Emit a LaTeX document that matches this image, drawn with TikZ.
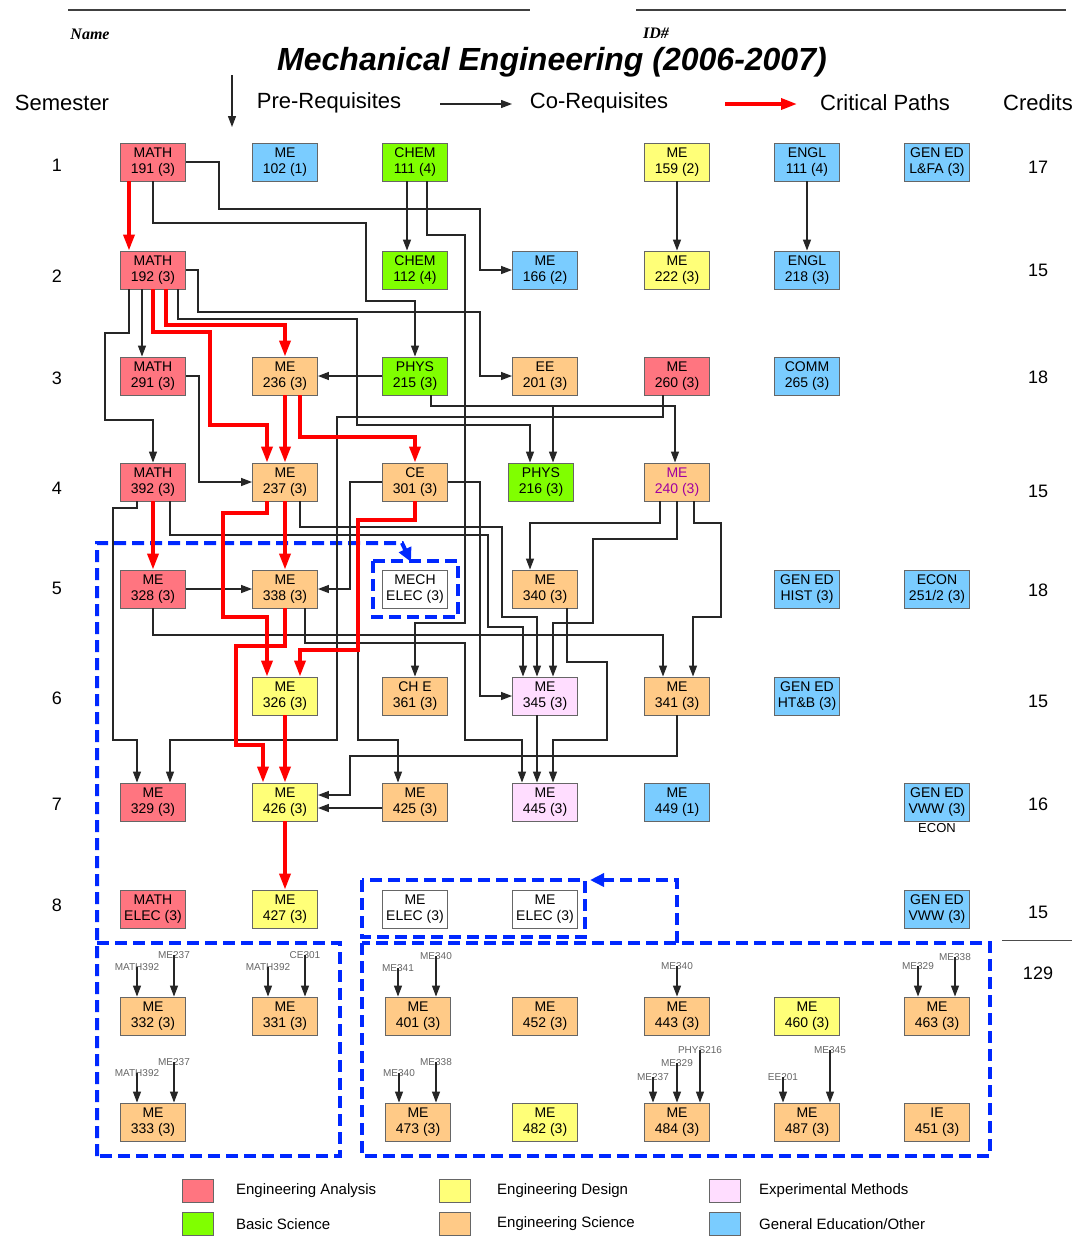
\documentclass[tikz,border=0pt]{standalone}
\usepackage{fontspec}
\setmainfont{Liberation Sans}
\newfontfamily\namefont{Liberation Serif}
\usetikzlibrary{arrows.meta,positioning}

\definecolor{anacol}{RGB}{255,117,128}
\definecolor{scicol}{RGB}{128,255,0}
\definecolor{descol}{RGB}{255,255,120}
\definecolor{engcol}{RGB}{255,202,135}
\definecolor{expcol}{RGB}{255,221,255}
\definecolor{gencol}{RGB}{122,204,255}
\definecolor{critred}{RGB}{255,0,0}
\definecolor{dashblue}{RGB}{0,40,255}
\definecolor{mepurple}{RGB}{160,0,160}

\tikzset{
  course/.style={draw=black!60, line width=0.9pt, minimum width=65pt, minimum height=38pt,
    inner sep=1pt, align=center, font=\fontsize{14}{16}\selectfont},
  pre/.style={draw=black!85, line width=1.3pt, -{Triangle[length=11pt,width=8pt]}},
  crit/.style={draw=critred, line width=3.5pt, -{Triangle[length=16pt,width=11pt]}},
  bluedash/.style={draw=dashblue, line width=4pt, dash pattern=on 12pt off 6pt},
  hint/.style={font=\fontsize{10}{10}\selectfont, text=black!60, inner sep=0pt},
  semnum/.style={font=\fontsize{18}{18}\selectfont},
  headtxt/.style={font=\fontsize{22}{22}\selectfont},
  legbox/.style={draw=black!60, line width=0.9pt, minimum width=31pt, minimum height=23pt, inner sep=0pt},
  legtxt/.style={font=\fontsize{15}{15}\selectfont, inner sep=0pt}
}

\begin{document}
\begin{tikzpicture}[x=1pt, y=-1pt]
  \useasboundingbox (0,0) rectangle (1084,1237);
  \fill[white] (0,0) rectangle (1084,1237);

  % header
  \draw[line width=2pt, black!75] (68,10) -- (530,10);
  \draw[line width=2pt, black!75] (636,10) -- (1066,10);
  \node[font=\namefont\itshape\bfseries\fontsize{16}{16}\selectfont] (name) at (90,34) {Name};
  \node[font=\namefont\itshape\bfseries\fontsize{16}{16}\selectfont] (idno) at (656,33) {ID\#};
  \node[font=\bfseries\itshape\fontsize{32}{34}\selectfont] (title) at (552,62) {Mechanical Engineering (2006-2007)};

  \node[headtxt] (semhd) at (62,103) {Semester};
  \node[headtxt] (prehd) at (329,103) {Pre-Requisites};
  \node[headtxt] (cohd) at (599,103) {Co-Requisites};
  \node[headtxt] (crithd) at (885,103) {Critical Paths};
  \node[headtxt] (credhd) at (1038,103) {Credits};
  \draw[pre] (232,75) -- (232,127);
  \draw[pre] (440,104) -- (512,104);
  \draw[crit] (725,104) -- (797,104);

  % semester numbers and credits
  \foreach \s/\y in {1/165, 2/276, 3/378, 4/488, 5/588, 6/698, 7/804, 8/905}
    \node[semnum] (sem\s) at (57,\y) {\s};
  \foreach \c/\y [count=\i] in {17/167, 15/270, 18/377, 15/491, 18/590, 15/701, 16/804, 15/912}
    \node[semnum] (cred\i) at (1038,\y) {\c};
  \draw[line width=1pt, black!70] (1002,940) -- (1072,940);
  \node[semnum] (credtot) at (1038,973) {129};

  % blue elective frames
  \draw[bluedash, -{Triangle[length=14pt,width=13pt]}] (97,1156) |- (402,543) -- (411,562);
  \draw[bluedash] (373,561) rectangle (458,617);
  \draw[bluedash] (97,943) -- (340,943) -- (340,1156) -- (97,1156);
  \draw[bluedash] (362,943) rectangle (990,1156);
  \draw[bluedash] (362,880) rectangle (585,937);
  \draw[bluedash, -{Triangle[length=14pt,width=13pt]}] (677,943) |- (590,880);

  % semester 1
  \node[course, fill=anacol] (m191) at (153,162) {MATH\\191 (3)};
  \node[course, fill=gencol] (me102) at (285,162) {ME\\102 (1)};
  \node[course, fill=scicol] (ch111) at (415,162) {CHEM\\111 (4)};
  \node[course, fill=descol] (me159) at (677,162) {ME\\159 (2)};
  \node[course, fill=gencol] (en111) at (807,162) {ENGL\\111 (4)};
  \node[course, fill=gencol] (gelfa) at (937,162) {GEN ED\\L\&FA (3)};
  % semester 2
  \node[course, fill=anacol] (m192) at (153,270) {MATH\\192 (3)};
  \node[course, fill=scicol] (ch112) at (415,270) {CHEM\\112 (4)};
  \node[course, fill=gencol] (me166) at (545,270) {ME\\166 (2)};
  \node[course, fill=descol] (me222) at (677,270) {ME\\222 (3)};
  \node[course, fill=gencol] (en218) at (807,270) {ENGL\\218 (3)};
  % semester 3
  \node[course, fill=anacol] (m291) at (153,376) {MATH\\291 (3)};
  \node[course, fill=engcol] (me236) at (285,376) {ME\\236 (3)};
  \node[course, fill=scicol] (ph215) at (415,376) {PHYS\\215 (3)};
  \node[course, fill=engcol] (ee201) at (545,376) {EE\\201 (3)};
  \node[course, fill=anacol] (me260) at (677,376) {ME\\260 (3)};
  \node[course, fill=gencol] (cm265) at (807,376) {COMM\\265 (3)};
  % semester 4
  \node[course, fill=anacol] (m392) at (153,482) {MATH\\392 (3)};
  \node[course, fill=engcol] (me237) at (285,482) {ME\\237 (3)};
  \node[course, fill=engcol] (ce301) at (415,482) {CE\\301 (3)};
  \node[course, fill=scicol] (ph216) at (541,482) {PHYS\\216 (3)};
  \node[course, fill=engcol, text=mepurple] (me240) at (677,482) {ME\\240 (3)};
  % semester 5
  \node[course, fill=anacol] (me328) at (153,589) {ME\\328 (3)};
  \node[course, fill=engcol] (me338) at (285,589) {ME\\338 (3)};
  \node[course, fill=white] (mech) at (415,589) {MECH\\ELEC (3)};
  \node[course, fill=engcol] (me340) at (545,589) {ME\\340 (3)};
  \node[course, fill=gencol] (gehist) at (807,589) {GEN ED\\HIST (3)};
  \node[course, fill=gencol] (econ) at (937,589) {ECON\\251/2 (3)};
  % semester 6
  \node[course, fill=descol] (me326) at (285,696) {ME\\326 (3)};
  \node[course, fill=engcol] (che361) at (415,696) {CH E\\361 (3)};
  \node[course, fill=expcol] (me345) at (545,696) {ME\\345 (3)};
  \node[course, fill=engcol] (me341) at (677,696) {ME\\341 (3)};
  \node[course, fill=gencol] (geht) at (807,696) {GEN ED\\HT\&B (3)};
  % semester 7
  \node[course, fill=anacol] (me329) at (153,802) {ME\\329 (3)};
  \node[course, fill=descol] (me426) at (285,802) {ME\\426 (3)};
  \node[course, fill=engcol] (me425) at (415,802) {ME\\425 (3)};
  \node[course, fill=expcol] (me445) at (545,802) {ME\\445 (3)};
  \node[course, fill=gencol] (me449) at (677,802) {ME\\449 (1)};
  \node[course, fill=gencol] (gevwa) at (937,802) {GEN ED\\VWW (3)};
  \node[font=\fontsize{13}{13}\selectfont, inner sep=0pt, below=2pt of gevwa] (econlbl) {ECON};
  % semester 8
  \node[course, fill=anacol] (mathel) at (153,909) {MATH\\ELEC (3)};
  \node[course, fill=descol] (me427) at (285,909) {ME\\427 (3)};
  \node[course, fill=white] (meela) at (415,909) {ME\\ELEC (3)};
  \node[course, fill=white] (meelb) at (545,909) {ME\\ELEC (3)};
  \node[course, fill=gencol] (gevwb) at (937,909) {GEN ED\\VWW (3)};

  % electives
  \node[course, fill=engcol] (me332) at (153,1016) {ME\\332 (3)};
  \node[course, fill=engcol] (me331) at (285,1016) {ME\\331 (3)};
  \node[course, fill=engcol] (me333) at (153,1122) {ME\\333 (3)};
  \node[course, fill=engcol] (me401) at (418,1016) {ME\\401 (3)};
  \node[course, fill=engcol] (me452) at (545,1016) {ME\\452 (3)};
  \node[course, fill=engcol] (me443) at (677,1016) {ME\\443 (3)};
  \node[course, fill=descol] (me460) at (807,1016) {ME\\460 (3)};
  \node[course, fill=engcol] (me463) at (937,1016) {ME\\463 (3)};
  \node[course, fill=engcol] (me473) at (418,1122) {ME\\473 (3)};
  \node[course, fill=descol] (me482) at (545,1122) {ME\\482 (3)};
  \node[course, fill=engcol] (me484) at (677,1122) {ME\\484 (3)};
  \node[course, fill=engcol] (me487) at (807,1122) {ME\\487 (3)};
  \node[course, fill=engcol] (ie451) at (937,1122) {IE\\451 (3)};

  % elective pre-requisite hints
  \foreach \h/\t/\x/\y/\c in {a/MATH392/137/967/me332, b/ME237/174/955/me332,
      c/MATH392/268/967/me331, d/CE301/305/955/me331,
      e/MATH392/137/1073/me333, f/ME237/174/1062/me333,
      g/ME341/398/968/me401, h/ME340/436/956/me401,
      i/ME340/677/966/me443,
      j/ME329/918/966/me463, k/ME338/955/957/me463,
      l/ME340/399/1073/me473, m/ME338/436/1062/me473,
      n/ME237/653/1077/me484, o/ME329/677/1063/me484, p/PHYS216/700/1050/me484,
      q/EE201/783/1077/me487, r/ME345/830/1050/me487} {
    \node[hint] (hint\h) at (\x,\y) {\t};
    \draw[pre] (hint\h.center) -- (hint\h.center |- \c.north);
  }

  % pre-requisites and co-requisites
  \draw[pre] (m191.east) -- (219,162) |- (480,209) |- (me166.west);
  \draw[pre] (m191.south) |- (366,223) |- (415,301) -- (ph215.north);
  \draw[pre] ([xshift=-8]ch111.south) -- ([xshift=-8]ch112.north);
  \draw[pre] ([xshift=12]ch111.south) |- (465,235) |- (415,623) -- (che361.north);
  \draw[pre] (me159.south) -- (me222.north);
  \draw[pre] (en111.south) -- (en218.north);
  \draw[pre] ([xshift=-11]m192.south) -- ([xshift=-11]m291.north);
  \draw[pre] ([xshift=-24]m192.south) |- (105,333) |- (153,420) -- (m392.north);
  \draw[pre] (m192.east) -- (198,270) |- (480,312) |- (ee201.west);
  \draw[pre] ([xshift=25]m192.south) |- (357,319) |- (530,425) -- ([xshift=-11]ph216.north);
  \draw[pre] (ph215.west) -- (me236.east);
  \draw[pre] ([xshift=16]ph215.south) |- (675,406) -- ([xshift=-2]me240.north);
  \draw[pre] (553,406) -- ([xshift=12]ph216.north);
  \draw[pre] ([xshift=-14]me260.south) |- (337,417) |- (170,740) -- ([xshift=17]me329.north);
  \draw[pre] (m291.east) -- (199,376) |- (me237.west);
  \draw[pre] (ce301.west) -| (350,589) -- (me338.east);
  \draw[pre] (ce301.east) -| (480,696) -- (me345.west);
  \draw[pre] (ce301.south) |- (358,520) |- (398,740) -- ([xshift=-17]me425.north);
  \draw[pre] ([xshift=-16]m392.south) |- (113,508) |- (137,740) -- ([xshift=-16]me329.north);
  \draw[pre] ([xshift=17]m392.south) |- (488,535) |- (523,627) -- ([xshift=-22]me345.north);
  \draw[pre] ([xshift=15]me237.south) |- (502,527) |- (537,617) -- ([xshift=-8]me345.north);
  \draw[pre] ([xshift=-17]me240.south) |- (530,523) -- ([xshift=-15]me340.north);
  \draw[pre] (me240.south) |- (593,539) |- (553,623) -- ([xshift=8]me345.north);
  \draw[pre] ([xshift=17]me240.south) |- (721,523) |- (693,617) -- ([xshift=16]me341.north);
  \draw[pre] (me328.east) -- (me338.west);
  \draw[pre] (me328.south) |- (663,635) -- ([xshift=-14]me341.north);
  \draw[pre] ([xshift=20]me338.south) |- (465,643) |- (522,740) -- ([xshift=-23]me445.north);
  \draw[pre] ([xshift=22]me340.south) |- (607,662) |- (553,740) -- ([xshift=8]me445.north);
  \draw[pre] ([xshift=-8]me345.south) -- ([xshift=-8]me445.north);
  \draw[pre] (me341.south) |- (350,756) |- ([yshift=7]me426.east);
  \draw[pre] ([yshift=-6]me425.west) -- ([yshift=-6]me426.east);

  % critical paths
  \draw[crit] ([xshift=-24]m191.south) -- ([xshift=-24]m192.north);
  \draw[crit] (m192.south) |- (210,332) |- (267,425) -- ([xshift=-18]me237.north);
  \draw[crit] ([xshift=13]m192.south) |- (285,325) -- (me236.north);
  \draw[crit] (me236.south) -- (me237.north);
  \draw[crit] ([xshift=15]me236.south) |- (415,437) -- (ce301.north);
  \draw[crit] (m392.south) -- (me328.north);
  \draw[crit] (me237.south) -- (me338.north);
  \draw[crit] ([xshift=-18]me237.south) |- (223,513) |- (267,617) -- ([xshift=-18]me326.north);
  \draw[crit] (ce301.south) |- (358,520) |- (300,650) -- ([xshift=15]me326.north);
  \draw[crit] (me338.south) |- (236,646) |- (263,745) -- ([xshift=-22]me426.north);
  \draw[crit] (me326.south) -- (me426.north);
  \draw[crit] (me426.south) -- (me427.north);

  % legend
  \node[legbox, fill=anacol] (keyana) at (198,1191) {};
  \node[legtxt, right=22pt of keyana] (txtana) {Engineering Analysis};
  \node[legbox, fill=scicol] (keysci) at (198,1224) {};
  \node[legtxt, right=22pt of keysci] (txtsci) {Basic Science};
  \node[legbox, fill=descol] (keydes) at (455,1191) {};
  \node[legtxt, right=26pt of keydes] (txtdes) {Engineering Design};
  \node[legbox, fill=engcol] (keyeng) at (455,1224) {};
  \node[legtxt, right=26pt of keyeng] (txteng) {Engineering Science};
  \node[legbox, fill=expcol] (keyexp) at (725,1191) {};
  \node[legtxt, right=18pt of keyexp] (txtexp) {Experimental Methods};
  \node[legbox, fill=gencol] (keygen) at (725,1224) {};
  \node[legtxt, right=18pt of keygen] (txtgen) {General Education/Other};
\end{tikzpicture}
\end{document}
